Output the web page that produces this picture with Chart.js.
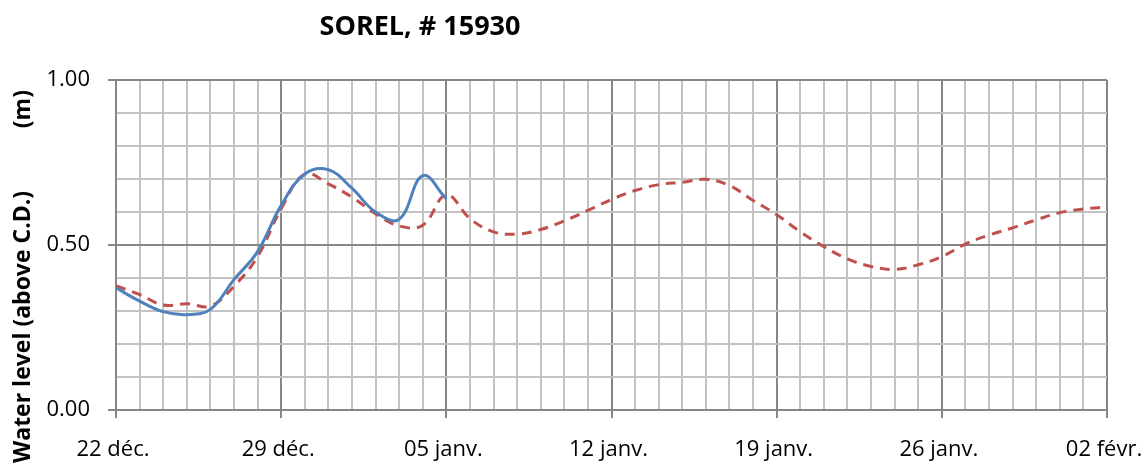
<!DOCTYPE html>
<html>
<head>
<meta charset="utf-8">
<script src="https://cdn.jsdelivr.net/npm/chart.js@4"></script>
<style>
  html, body { margin: 0; padding: 0; background: #ffffff; }
  #wrap { width: 1148px; height: 464px; position: relative; }
</style>
</head>
<body>
<div id="wrap"><canvas id="levelChart" width="1148" height="464"></canvas></div>
<script>
// jours depuis le 22 déc.
const xTickLabels = ['22 déc.', '29 déc.', '05 janv.', '12 janv.', '19 janv.', '26 janv.', '02 févr.'];

const observedDays = [0, 1, 2, 3, 4, 5, 6, 7, 8, 9, 10, 11, 12, 13, 14];
const observedLevels = [0.37, 0.33, 0.298, 0.289, 0.305, 0.395, 0.48, 0.62, 0.715, 0.728, 0.672, 0.60, 0.578, 0.71, 0.64];

const predictedDays = [0, 1, 2, 3, 4, 5, 6, 7, 8, 9, 10, 11, 12, 13, 14, 15, 16, 17, 18, 19, 20,
  21, 22, 23, 24, 25, 26, 27, 28, 29, 30, 31, 32, 33, 34, 35, 36, 37, 38, 39, 40, 41, 42];
const predictedLevels = [0.376, 0.35, 0.318, 0.322, 0.315, 0.375, 0.465, 0.61, 0.715, 0.685, 0.645,
  0.595, 0.558, 0.56, 0.652, 0.58, 0.54, 0.533, 0.547, 0.573, 0.605,
  0.638, 0.665, 0.683, 0.69, 0.699, 0.68, 0.635, 0.592, 0.54, 0.495,
  0.458, 0.435, 0.426, 0.44, 0.465, 0.503, 0.53, 0.552, 0.576, 0.598, 0.609, 0.615];

const FONT = "'Open Sans', 'Liberation Sans', sans-serif";
const MAJOR = '#868686';
const MINOR = '#c2c2c2';

function toPoints(xs, ys) {
  return xs.map((x, i) => ({ x: x, y: ys[i] }));
}

// titre et titre de l'axe Y dessinés à la main (positions décalées comme l'original)
const textPlugin = {
  id: 'textPlugin',
  afterDraw(chart) {
    const ctx = chart.ctx;
    ctx.save();
    ctx.fillStyle = '#000000';
    ctx.font = 'bold 27px ' + FONT;
    ctx.textAlign = 'center';
    ctx.textBaseline = 'middle';
    ctx.fillText('SOREL, # 15930', 420, 27);

    ctx.translate(23, 0);
    ctx.rotate(-Math.PI / 2);
    ctx.font = 'bold 23px ' + FONT;
    ctx.textAlign = 'left';
    ctx.fillText('Water level (above C.D.)', -463, 0);
    ctx.textAlign = 'right';
    ctx.fillText('(m)', -90, 0);
    ctx.restore();
  }
};

const isMajorX = v => Math.abs(v % 7) < 1e-6;
const isMajorY = v => Math.abs(v * 2 - Math.round(v * 2)) < 1e-6;

new Chart(document.getElementById('levelChart').getContext('2d'), {
  type: 'line',
  data: {
    datasets: [{
      label: 'Observed',
      data: toPoints(observedDays, observedLevels),
      borderColor: '#4f81bd',
      borderWidth: 3,
      pointRadius: 0,
      tension: 0.4,
      fill: false
    }, {
      label: 'Predicted',
      data: toPoints(predictedDays, predictedLevels),
      borderColor: '#c0504d',
      borderWidth: 3,
      borderDash: [10, 7],
      pointRadius: 0,
      tension: 0.4,
      fill: false
    }]
  },
  options: {
    responsive: false,
    animation: false,
    layout: { padding: { top: 80, right: 41, left: 0, bottom: 0 } },
    plugins: {
      legend: { display: false },
      title: { display: false },
      tooltip: { enabled: false }
    },
    scales: {
      x: {
        type: 'linear',
        min: 0,
        max: 42,
        afterFit: s => {
          s.height = 54;
          s.paddingLeft = 0;
          s.paddingRight = 0;
        },
        border: { color: MAJOR, width: 2 },
        grid: {
          color: c => isMajorX(c.tick.value) ? MAJOR : MINOR,
          lineWidth: 2,
          tickColor: c => isMajorX(c.tick.value) ? MAJOR : 'rgba(0,0,0,0)',
          tickLength: 8
        },
        ticks: {
          stepSize: 1,
          autoSkip: false,
          maxRotation: 0,
          padding: 19,
          labelOffset: -3,
          color: '#000000',
          font: { family: FONT, size: 22 },
          callback: v => isMajorX(v) ? xTickLabels[Math.round(v / 7)] : ''
        }
      },
      y: {
        min: 0,
        max: 1,
        afterFit: s => {
          s.width = 116;
          s.paddingTop = 0;
          s.paddingBottom = 0;
        },
        border: { color: MAJOR, width: 2 },
        grid: {
          color: c => isMajorY(c.tick.value) ? MAJOR : MINOR,
          lineWidth: 2,
          tickColor: c => isMajorY(c.tick.value) ? MAJOR : 'rgba(0,0,0,0)',
          tickLength: 8
        },
        ticks: {
          stepSize: 0.1,
          autoSkip: false,
          padding: 18,
          color: '#000000',
          font: { family: FONT, size: 22 },
          callback: v => isMajorY(v) ? v.toFixed(2) : ''
        }
      }
    }
  },
  plugins: [textPlugin]
});
</script>
</body>
</html>
